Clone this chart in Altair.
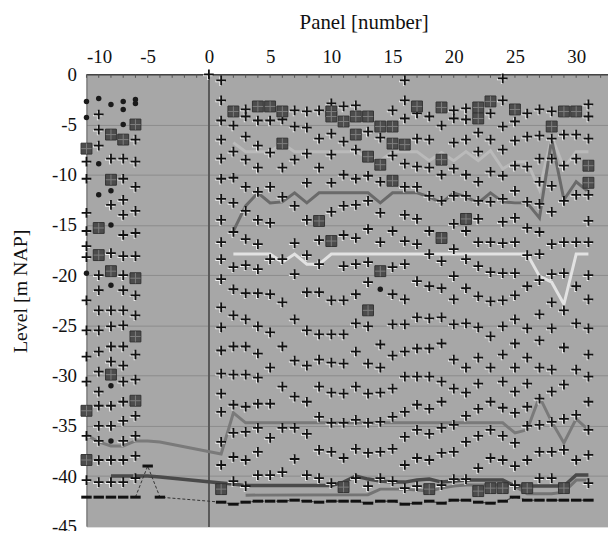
import altair as alt
import pandas as pd

# ---------------- '+' markers: levels [m NAP] per panel column ----------------
p_m10 = [-8.7, -10.4, -13.8, -15.6, -17.1, -18.2, -22.5, -25.5, -28.1, -30.6, -36.0, -40.4]
p_m9 = [-4.0, -5.5, -7.1, -20.0, -21.5, -23.5, -25.5, -27.6, -29.6, -31.6, -33.0, -35.0, -36.5, -38.4, -40.6]
p_m8 = [-8.4, -13.0, -17.8, -23.5, -25.1, -27.1, -28.6, -33.0, -35.0, -38.4, -40.6]
p_m7 = [-8.4, -10.4, -12.5, -14.0, -16.0, -18.1, -20.0, -21.5, -23.5, -25.0, -27.1, -29.0, -30.6, -32.6, -34.5, -36.5, -38.4, -40.6]
p_m6 = [-6.5, -8.7, -11.2, -13.6, -15.8, -18.1, -22.0, -24.0, -27.9, -30.4, -34.0, -36.0, -38.0, -40.2]
p_0 = [0.0]
p_1 = [-0.6, -2.6, -4.6, -6.5, -8.4, -10.4, -12.4, -14.5, -16.7, -18.4, -20.4, -23.2, -25.2, -27.5, -29.8, -31.8, -33.6, -36.6, -38.9]
p_2 = [-5.1, -7.7, -10.3, -12.8, -15.7, -19.2, -21.4, -24.0, -27.1, -29.9, -32.9, -35.7, -38.1, -40.5]
p_3 = [-3.5, -4.2, -6.2, -8.5, -11.2, -13.6, -16.4, -19.0, -21.8, -24.4, -27.1, -29.9, -33.1, -35.6, -38.4, -41.0]
p_4 = [-4.6, -7.1, -9.3, -11.7, -14.5, -16.9, -19.4, -21.8, -25.1, -27.8, -30.2, -32.8, -35.2, -37.6, -39.9]
p_5 = [-4.6, -7.8, -11.2, -14.8, -18.4, -21.9, -25.7, -29.2, -32.8, -36.2, -39.9]
p_6 = [-4.5, -9.3, -12.2, -18.4, -22.7, -27.1, -31.1, -35.2, -39.6]
p_7 = [-3.6, -5.2, -8.5, -13.1, -16.8, -19.9, -24.4, -28.5, -32.1, -35.2, -38.3]
p_8 = [-3.7, -5.3, -7.9, -10.8, -14.5, -18.0, -21.7, -25.5, -29.0, -32.6, -35.8, -39.9]
p_9 = [-3.6, -6.4, -9.3, -16.5, -18.9, -21.7, -25.9, -28.4, -31.1, -34.1, -37.4, -40.2]
p_10 = [-2.9, -5.9, -8.0, -10.8, -13.7, -22.5, -25.9, -28.7, -31.7, -34.7, -37.6, -40.7]
p_11 = [-3.2, -6.7, -10.0, -13.1, -16.0, -19.1, -22.5, -25.9, -28.8, -31.8, -34.7, -38.2]
p_12 = [-3.1, -7.5, -10.4, -13.0, -16.3, -18.9, -21.9, -24.8, -27.6, -31.1, -34.4, -37.3, -40.2]
p_13 = [-5.7, -10.1, -12.6, -15.4, -18.7, -20.7, -25.1, -28.8, -31.8, -34.7, -37.7, -41.0]
p_14 = [-6.3, -10.7, -13.8, -16.7, -26.9, -29.2, -31.7, -34.6, -37.6, -40.2]
p_15 = [-3.6, -8.1, -15.6, -19.2, -21.9, -24.9, -28.0, -31.3, -34.1, -37.3, -40.5]
p_16 = [-0.6, -2.6, -4.4, -8.9, -11.2, -14.0, -16.6, -18.9, -22.4, -24.9, -27.6, -30.1, -33.6, -36.1, -38.9, -41.2]
p_17 = [-3.9, -6.4, -9.2, -11.2, -14.4, -16.9, -20.6, -24.2, -27.3, -30.1, -32.9, -35.4, -38.2, -41.0]
p_18 = [-4.2, -6.5, -9.3, -12.1, -15.6, -17.9, -21.1, -24.3, -27.3, -30.1, -33.3, -35.8, -38.4]
p_19 = [-5.1, -10.0, -12.6, -18.6, -21.3, -24.2, -26.8, -30.6, -32.6, -35.2, -37.7, -40.9]
p_20 = [-3.6, -4.4, -6.8, -9.4, -12.1, -14.9, -17.4, -20.1, -22.4, -24.9, -28.4, -31.3, -34.9, -37.6, -40.3]
p_21 = [-3.4, -4.5, -6.5, -10.0, -12.1, -15.6, -18.4, -21.3, -24.8, -29.2, -31.7, -34.0, -36.6, -40.3]
p_22 = [-5.8, -7.7, -10.7, -12.6, -14.4, -16.7, -19.1, -22.1, -25.2, -28.2, -30.8, -33.3, -36.0, -39.2]
p_23 = [-3.9, -6.5, -9.7, -12.7, -16.7, -19.7, -22.6, -26.1, -29.2, -32.6, -35.4, -38.2]
p_24 = [-0.4, -2.6, -5.2, -7.5, -10.1, -12.4, -14.7, -16.8, -19.8, -22.5, -25.1, -27.9, -30.6, -33.2, -36.0, -38.4]
p_25 = [-4.7, -6.6, -9.1, -11.6, -14.3, -16.7, -19.8, -22.0, -24.4, -26.8, -29.2, -31.6, -33.7, -36.7, -39.0, -40.9]
p_26 = [-3.9, -6.2, -9.2, -12.7, -15.3, -18.0, -21.1, -25.3, -28.2, -30.8, -33.1, -35.0, -38.4]
p_27 = [-3.5, -6.1, -8.4, -10.7, -12.9, -15.7, -17.9, -20.5, -23.9, -26.5, -29.2, -32.3, -34.9, -37.6, -40.2]
p_28 = [-3.7, -6.4, -8.4, -11.1, -13.7, -16.9, -19.9, -22.7, -25.3, -29.4, -31.6, -34.6, -37.6, -40.2]
p_29 = [-6.0, -9.1, -12.6, -16.7, -19.8, -23.5, -27.2, -30.9, -34.3, -37.4]
p_30 = [-6.0, -8.4, -12.0, -16.7, -21.1, -24.8, -29.4, -33.9, -38.4]
p_31 = [-3.0, -4.2, -6.4, -12.0, -14.6, -16.7, -20.0, -22.4, -25.3, -27.9, -30.1, -32.6, -35.4, -37.9, -40.7]

plus_columns = [
    (-10, p_m10), (-9, p_m9), (-8, p_m8), (-7, p_m7), (-6, p_m6), (0, p_0),
    (1, p_1), (2, p_2), (3, p_3), (4, p_4), (5, p_5), (6, p_6), (7, p_7), (8, p_8),
    (9, p_9), (10, p_10), (11, p_11), (12, p_12), (13, p_13), (14, p_14), (15, p_15),
    (16, p_16), (17, p_17), (18, p_18), (19, p_19), (20, p_20), (21, p_21), (22, p_22),
    (23, p_23), (24, p_24), (25, p_25), (26, p_26), (27, p_27), (28, p_28), (29, p_29),
    (30, p_30), (31, p_31),
]

# ---------------- square markers ----------------
sq_x = [-10, -10, -10, -9, -9, -8, -8, -8, -8, -7, -6, -6, -6, -6,
        1, 2, 4, 5, 6, 6, 9, 10, 10, 10, 11, 11, 12, 12, 13, 13, 13, 14, 14, 14,
        15, 15, 15, 16, 17, 18, 19, 19, 19, 21, 22, 22, 22, 23, 23, 24, 25, 26,
        28, 29, 29, 30, 31, 31]
sq_y = [-7.4, -33.5, -38.4, -15.3, -18.0, -6.0, -10.5, -19.6, -29.9, -6.5, -5.0, -20.3, -26.1, -32.5,
        -41.3, -3.7, -3.2, -3.2, -3.7, -6.9, -14.6, -3.7, -4.2, -16.6, -4.7, -41.1, -4.2, -6.0, -4.2, -8.2, -23.5, -5.2, -9.0, -19.6,
        -5.2, -6.9, -10.6, -7.0, -3.2, -41.3, -3.3, -8.5, -16.3, -14.4, -3.3, -4.4, -41.5, -2.7, -41.2, -41.2, -3.5, -41.2,
        -5.2, -3.7, -41.2, -3.7, -9.1, -10.8]

# ---------------- small filled circles ----------------
ci_x = [-10, -10, -10, -9, -9, -9, -8, -8, -8, -8, -8, -8, -7, -7, -7, -6, -6, 14]
ci_y = [-2.7, -4.3, -19.8, -2.4, -8.9, -12.0, -3.0, -11.6, -15.0, -21.0, -31.0, -36.5,
        -2.7, -3.5, -5.0, -2.5, -2.9, -21.4]

# ---------------- bottom dash markers ----------------
da_x = [-10, -9, -8, -7, -6, -5, -4, 1, 2, 3, 4, 5, 6, 7, 8, 9, 10, 11, 12, 13, 14, 15,
        16, 17, 18, 19, 20, 21, 22, 23, 24, 25, 26, 27, 28, 29, 30, 31]
da_y = [-42.1, -42.1, -42.1, -42.1, -42.1, -39.0, -42.1, -42.6, -42.8, -42.6, -42.5, -42.5,
        -42.5, -42.4, -42.5, -42.6, -42.5, -42.5, -42.5, -42.7, -42.5, -42.5, -42.8, -42.7,
        -42.5, -42.7, -42.4, -42.4, -42.6, -42.7, -42.5, -42.1, -42.4, -42.4, -42.4, -42.4,
        -42.4, -42.4]

# ---------------- lines ----------------
la_x = list(range(2, 32))
la_y = [-6.8, -7.7, -7.7, -7.7, -6.9, -7.7, -7.7, -7.7, -7.7, -7.7, -7.7, -8.3, -8.6, -7.7,
        -7.7, -7.7, -8.6, -7.8, -8.6, -7.7, -8.6, -7.6, -9.4, -8.7, -8.7, -11.5, -6.2, -9.3,
        -7.7, -7.7]
lb_x = list(range(2, 32))
lb_y = [-15.6, -13.1, -11.8, -12.8, -12.7, -11.8, -12.8, -11.8, -11.8, -11.8, -11.8, -11.8,
        -12.8, -11.8, -11.8, -11.8, -12.2, -12.8, -11.8, -12.2, -12.8, -11.8, -12.7, -12.8,
        -12.8, -14.3, -6.5, -12.5, -10.7, -11.7]
lc_x = list(range(2, 32))
lc_y = [-17.9, -17.9, -17.9, -17.9, -18.7, -17.9, -18.9, -18.9, -17.9, -17.9, -17.9, -17.9,
        -17.9, -17.9, -17.9, -17.9, -17.9, -17.9, -17.9, -17.9, -17.9, -17.9, -17.9, -17.9,
        -17.9, -20.1, -20.7, -22.9, -17.9, -17.9]
ld_x = [-10, -9, -8, -7, -6, -5, -4, 1, 2, 3, 24, 25, 26, 27, 28, 29, 30, 31]
ld_y = [-35.9, -36.6, -37.0, -37.0, -36.5, -36.5, -36.6, -37.8, -33.7, -34.7, -34.7, -35.7,
        -35.4, -32.1, -34.6, -36.7, -34.3, -35.4]
le_x = [-8, -7, -6, -5, -4, 1, 2, 3, 10, 11, 12, 13, 14, 15, 16, 17, 18, 19, 20, 21, 24,
        25, 29, 30, 31]
le_y = [-40.0, -40.0, -40.0, -40.0, -40.1, -40.7, -40.8, -40.95, -40.95, -40.6, -40.0, -40.3,
        -40.5, -40.6, -40.6, -40.4, -40.3, -40.6, -40.5, -40.4, -40.4, -41.0, -41.0, -39.9, -39.9]
lf_x = [3, 13, 14, 15, 16, 17, 18, 19, 20, 21, 24, 25, 26, 28, 29, 30, 31]
lf_y = [-41.9, -41.85, -41.3, -41.3, -41.3, -41.4, -41.5, -41.2, -41.0, -40.9, -40.9, -41.0,
        -41.75, -41.75, -41.6, -40.4, -40.4]

tick_x = list(range(-10, 33))

# ---------------- tables ----------------
plus_df = pd.DataFrame([{"x": x, "y": y} for x, ys in plus_columns for y in ys])
sq_df = pd.DataFrame({"x": sq_x, "y": sq_y})
ci_df = pd.DataFrame({"x": ci_x, "y": ci_y})
da_df = pd.DataFrame({"x": da_x, "y": da_y})
tick_df = pd.DataFrame({"x": tick_x})

FONT = "Liberation Serif"
xs = alt.Scale(domain=[-10, 32.6], nice=False, zero=False)
ys_ = alt.Scale(domain=[-45, 0], nice=False, zero=False)
xaxis = alt.Axis(orient="top", values=list(range(-10, 31, 5)), title="Panel [number]",
                 labelExpr="datum.value + ''",
                 labelFont=FONT, labelFontSize=19, labelColor="#111", labelPadding=8,
                 titleFont=FONT, titleFontSize=21, titleFontWeight="normal", titleColor="#111",
                 titleX=279, titleY=-52, titleAlign="center", titleBaseline="middle",
                 ticks=False, grid=False, domainColor="#444", domainWidth=1.5)
yaxis = alt.Axis(values=list(range(-45, 1, 5)), title="Level [m NAP]",
                 labelExpr="datum.value + ''",
                 labelFont=FONT, labelFontSize=19, labelColor="#111", labelPadding=10,
                 titleFont=FONT, titleFontSize=20, titleFontWeight="normal", titleColor="#111",
                 titleX=-66, titleY=218, titleAlign="center", titleBaseline="middle",
                 titleAngle=270,
                 ticks=False, grid=True, gridColor="#8c8c8c", gridWidth=1,
                 domainColor="#666", domainWidth=1)

X = alt.X("x:Q", scale=xs, axis=xaxis)
Y = alt.Y("y:Q", scale=ys_, axis=yaxis)


def line_layer(xv, yv, color, width):
    df = pd.DataFrame({"x": xv, "y": yv})
    return alt.Chart(df).mark_line(color=color, strokeWidth=width).encode(x=X, y=Y)


zero_rule = alt.Chart(tick_df).mark_rule(color="#5a5a5a", strokeWidth=1).encode(x=alt.datum(0))
top_ticks = alt.Chart(tick_df).mark_rule(color="#555", strokeWidth=1).encode(
    x=X, y=alt.datum(0), y2=alt.datum(-0.35))

lines = [
    line_layer(la_x, la_y, "#bababa", 3),
    line_layer(lb_x, lb_y, "#6a6a6a", 3),
    line_layer(lc_x, lc_y, "#e2e2e2", 3),
    line_layer(ld_x, ld_y, "#7a7a7a", 3),
    line_layer(lf_x, lf_y, "#747474", 3),
    line_layer(le_x, le_y, "#4a4a4a", 3.5),
]

dash_line = alt.Chart(da_df[da_df.x >= -6]).mark_line(
    color="#333", strokeWidth=1, strokeDash=[3, 2]).encode(x=X, y=Y)

PLUS = "M-1,0H1M0,-1V1"
DASH = "M-1,0H1"

plus_shadow = alt.Chart(plus_df).mark_point(
    shape=PLUS, filled=False, color="white", strokeWidth=1.7, size=90,
    xOffset=-1, yOffset=1, opacity=0.85).encode(x=X, y=Y)
plus_mark = alt.Chart(plus_df).mark_point(
    shape=PLUS, filled=False, color="#111", strokeWidth=1.8, size=95, opacity=1).encode(x=X, y=Y)
sq_mark = alt.Chart(sq_df).mark_point(
    shape="square", filled=True, fill="#4c4c4c", stroke="#333", strokeWidth=1, size=120,
    opacity=1).encode(x=X, y=Y)
sq_cross = alt.Chart(sq_df).mark_point(
    shape=PLUS, filled=False, color="#7e7e7e", strokeWidth=1, size=110, opacity=1).encode(x=X, y=Y)
ci_mark = alt.Chart(ci_df).mark_point(
    shape="circle", filled=True, color="#1a1a1a", size=30, opacity=1).encode(x=X, y=Y)
da_mark = alt.Chart(da_df).mark_point(
    shape=DASH, filled=False, color="#111", strokeWidth=3, size=110, opacity=1).encode(x=X, y=Y)

chart = alt.layer(
    zero_rule, top_ticks, *lines, dash_line, da_mark, plus_shadow, plus_mark,
    sq_mark, sq_cross, ci_mark
).properties(
    width=525, height=455,
    autosize=alt.AutoSizeParams(type="none"),
    padding={"left": 79, "top": 65, "right": 0, "bottom": 3},
    background="white",
).configure_view(fill="#a7a7a7", stroke=None)

chart.save("out.html", embed_options={"renderer": "svg", "actions": False})
